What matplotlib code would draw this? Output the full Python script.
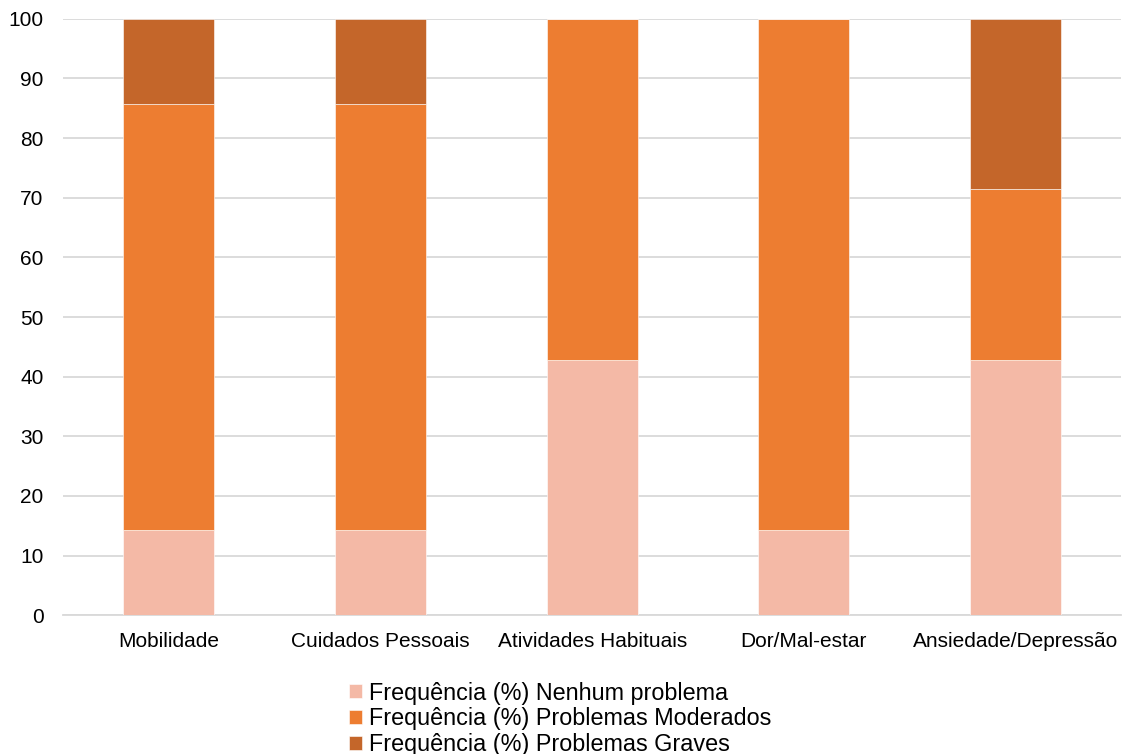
import numpy as np
import matplotlib.pyplot as plt

plt.rcParams['font.family'] = ['Liberation Sans', 'DejaVu Sans']

categorias = ['Mobilidade', 'Cuidados Pessoais', 'Atividades Habituais',
              'Dor/Mal-estar', 'Ansiedade/Depressão']
nenhum = [14.29, 14.29, 42.86, 14.29, 42.86]
moderados = [71.43, 71.43, 57.14, 85.71, 28.57]
graves = [14.29, 14.29, 0.0, 0.0, 28.57]

series = [
    ('Frequência (%) Nenhum problema', nenhum, '#F4B9A6'),
    ('Frequência (%) Problemas Moderados', moderados, '#ED7D31'),
    ('Frequência (%) Problemas Graves', graves, '#C4662A'),
]

fig = plt.figure(figsize=(11.27, 7.54), dpi=100)
ax = fig.add_axes([0.056, 0.184, 0.939, 0.791])

x = np.arange(len(categorias))
base = np.zeros(len(categorias))
for nome, vals, cor in series:
    vals = np.array(vals)
    ax.bar(x, vals, width=0.43, bottom=base, color=cor, label=nome,
           edgecolor='white', linewidth=0.4, zorder=3)
    base += vals

ax.set_xlim(-0.5, 4.5)
ax.set_ylim(0, 100)
ax.set_yticks(np.arange(0, 101, 10))
ax.set_xticks(x)
ax.set_xticklabels(categorias)
ax.tick_params(axis='both', length=0, labelsize=15, colors='black')
ax.tick_params(axis='x', pad=12)
ax.tick_params(axis='y', pad=14)
ax.grid(axis='y', color='#D9D9D9', linewidth=1.3, zorder=0)
for s in ['top', 'right', 'left']:
    ax.spines[s].set_visible(False)
ax.spines['bottom'].set_color('#D9D9D9')
ax.spines['bottom'].set_linewidth(1.3)

# legenda centrada na figura, abaixo do gráfico
ax.legend(loc='upper center', bbox_to_anchor=(0.497, 0.096), bbox_transform=fig.transFigure,
          frameon=False, fontsize=16.8, handlelength=0.56, handleheight=0.56,
          handletextpad=0.3, labelspacing=0.12, borderaxespad=0, borderpad=0)

fig.savefig('out.png', dpi=100)
